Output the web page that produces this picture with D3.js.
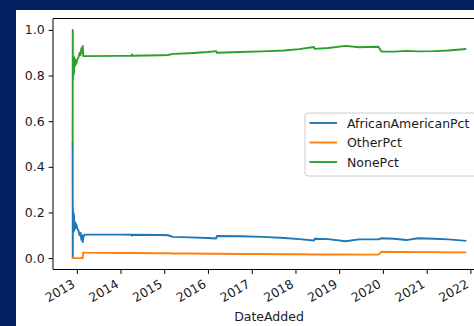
<!DOCTYPE html>
<html>
<head>
<meta charset="utf-8">
<script src="https://cdn.jsdelivr.net/npm/d3@7"></script>
<style>
  html, body { margin: 0; padding: 0; background: #002060; }
  svg { display: block; }
  text { font-family: "DejaVu Sans", sans-serif; fill: #1a1a1a; }
</style>
</head>
<body>
<svg id="chart" width="474" height="326"></svg>
<script>
// Share of records by group, by date added
const dateAdded = [
  "2012-11-27","2012-11-28","2012-11-29","2012-12-01","2012-12-03","2012-12-05",
  "2012-12-08","2012-12-11","2012-12-15","2012-12-20","2012-12-27","2013-01-05",
  "2013-01-15","2013-01-24","2013-02-01","2013-02-08","2013-02-14","2013-02-19",
  "2013-02-24","2013-03-05","2014-01-01","2014-04-03","2014-04-06","2014-04-09",
  "2014-12-01","2015-02-01","2015-03-15","2015-08-01","2016-01-01","2016-03-10",
  "2016-03-15","2016-10-01","2017-04-01","2017-10-01","2018-02-01","2018-06-05",
  "2018-06-10","2018-10-01","2019-02-25","2019-06-15","2019-11-25","2019-12-20",
  "2020-04-01","2020-07-15","2020-10-20","2021-03-01","2021-07-01","2021-11-20"
];
const africanAmericanPct = [
  0.50, 0.00, 0.22, 0.12, 0.20, 0.13,
  0.19, 0.12, 0.16, 0.13, 0.15, 0.13,
  0.12, 0.10, 0.11, 0.08, 0.10, 0.07,
  0.09, 0.103, 0.103, 0.102, 0.098, 0.102,
  0.101, 0.100, 0.093, 0.091, 0.088, 0.086,
  0.097, 0.096, 0.093, 0.088, 0.083, 0.077,
  0.085, 0.083, 0.074, 0.082, 0.082, 0.087,
  0.085, 0.079, 0.087, 0.085, 0.082, 0.076
];
const otherPct = [
  0, 0, 0, 0, 0, 0,
  0, 0, 0, 0, 0, 0,
  0, 0, 0, 0, 0, 0,
  0.025, 0.024, 0.022, 0.022, 0.022, 0.022,
  0.021, 0.021, 0.020, 0.020, 0.019, 0.019,
  0.019, 0.018, 0.018, 0.017, 0.017, 0.016,
  0.016, 0.016, 0.016, 0.015, 0.015, 0.028,
  0.027, 0.027, 0.026, 0.026, 0.025, 0.025
];
const nonePct = [
  0.50, 1.00, 0.78, 0.88, 0.80, 0.87,
  0.81, 0.88, 0.84, 0.87, 0.85, 0.87,
  0.88, 0.90, 0.89, 0.92, 0.90, 0.93,
  0.885, 0.885, 0.886, 0.886, 0.893, 0.887,
  0.889, 0.890, 0.895, 0.898, 0.903, 0.907,
  0.900, 0.903, 0.906, 0.910, 0.916, 0.925,
  0.917, 0.921, 0.930, 0.924, 0.926, 0.905,
  0.905, 0.908, 0.906, 0.907, 0.910, 0.916
];
const seriesNames = ["AfricanAmericanPct", "OtherPct", "NonePct"];
const seriesColors = ["#1f77b4", "#ff7f0e", "#2ca02c"];
const yTicks = [0.0, 0.2, 0.4, 0.6, 0.8, 1.0];
const xTickYears = [2013, 2014, 2015, 2016, 2017, 2018, 2019, 2020, 2021, 2022];
const xLabel = "DateAdded";

const parse = d3.timeParse("%Y-%m-%d");
const dates = dateAdded.map(parse);
const series = [africanAmericanPct, otherPct, nonePct].map((vals, i) => ({
  name: seriesNames[i],
  color: seriesColors[i],
  points: vals.map((v, j) => ({ date: dates[j], value: v }))
}));

const svg = d3.select("#chart");

// white figure panel
svg.append("rect").attr("x", 16).attr("y", 10).attr("width", 474 - 16).attr("height", 326 - 10).attr("fill", "#ffffff");

const plot = { left: 53, right: 485, top: 18.5, bottom: 269.5 };

// 5% padding around the data extent on both axes
const [t0, t1] = d3.extent(dates);
const pad = (t1 - t0) * 0.05;
const x = d3.scaleTime()
  .domain([new Date(+t0 - pad), new Date(+t1 + pad)])
  .range([plot.left, plot.right]);
const y = d3.scaleLinear().domain([-0.05, 1.05]).range([plot.bottom, plot.top]);

const clip = svg.append("clipPath").attr("id", "plotClip")
  .append("rect").attr("x", plot.left).attr("y", plot.top)
  .attr("width", plot.right - plot.left).attr("height", plot.bottom - plot.top);

const line = d3.line().x(d => x(d.date)).y(d => y(d.value));

const lines = svg.append("g").attr("clip-path", "url(#plotClip)");
series.forEach(s => {
  lines.append("path")
    .datum(s.points)
    .attr("fill", "none")
    .attr("stroke", s.color)
    .attr("stroke-width", 1.9)
    .attr("stroke-linejoin", "round")
    .attr("stroke-linecap", "square")
    .attr("d", line);
});

// y axis
const yAxis = d3.axisLeft(y).tickValues(yTicks).tickFormat(d3.format(".1f")).tickSize(4.4).tickPadding(4);
const gy = svg.append("g").attr("transform", `translate(${plot.left},0)`).call(yAxis);
gy.select(".domain").remove();
gy.selectAll(".tick line").attr("stroke", "#000").attr("stroke-width", 1);
gy.selectAll(".tick text").attr("font-size", 12.5).attr("fill", "#1a1a1a").attr("font-family", "DejaVu Sans, sans-serif");

// x axis with rotated, right-aligned year labels
const xTickDates = xTickYears.map(yr => new Date(yr, 0, 1));
const xAxis = d3.axisBottom(x).tickValues(xTickDates).tickFormat(d3.timeFormat("%Y")).tickSize(4.4).tickPadding(0);
const gx = svg.append("g").attr("transform", `translate(0,${plot.bottom})`).call(xAxis);
gx.select(".domain").remove();
gx.selectAll(".tick line").attr("stroke", "#000").attr("stroke-width", 1);
const fs = 12.5, asc = 0.76 * fs, desc = 0.22 * fs;
gx.selectAll(".tick text")
  .attr("font-size", fs)
  .attr("fill", "#1a1a1a")
  .attr("font-family", "DejaVu Sans, sans-serif")
  .attr("text-anchor", "end")
  .attr("dy", null)
  .attr("y", null)
  .attr("transform", `translate(${-0.5 * desc},${8.8 + 0.866 * asc}) rotate(-30)`);

// spines
const spines = svg.append("g").attr("stroke", "#000").attr("stroke-width", 1).attr("fill", "none");
spines.append("line").attr("x1", plot.left).attr("x2", plot.left).attr("y1", plot.top).attr("y2", plot.bottom);
spines.append("line").attr("x1", plot.left).attr("x2", plot.right).attr("y1", plot.bottom).attr("y2", plot.bottom);
spines.append("line").attr("x1", plot.left).attr("x2", plot.right).attr("y1", plot.top).attr("y2", plot.top);
spines.append("line").attr("x1", plot.right).attr("x2", plot.right).attr("y1", plot.top).attr("y2", plot.bottom);

// x axis title
svg.append("text")
  .attr("x", (plot.left + plot.right) / 2)
  .attr("y", 320.5)
  .attr("text-anchor", "middle")
  .attr("font-size", 12.5)
  .text(xLabel);

// legend
const legend = svg.append("g").attr("transform", "translate(305,113)");
legend.append("rect")
  .attr("x", 0).attr("y", 0).attr("width", 176).attr("height", 63)
  .attr("rx", 3).attr("fill", "#ffffff").attr("fill-opacity", 0.8)
  .attr("stroke", "#cccccc").attr("stroke-width", 1);
series.forEach((s, i) => {
  const ly = 10 + i * 19.5;
  legend.append("line")
    .attr("x1", 4.5).attr("x2", 32)
    .attr("y1", ly).attr("y2", ly)
    .attr("stroke", s.color).attr("stroke-width", 1.9);
  legend.append("text")
    .attr("x", 42).attr("y", ly + 4.5)
    .attr("font-size", 12.5)
    .text(s.name);
});
</script>
</body>
</html>
